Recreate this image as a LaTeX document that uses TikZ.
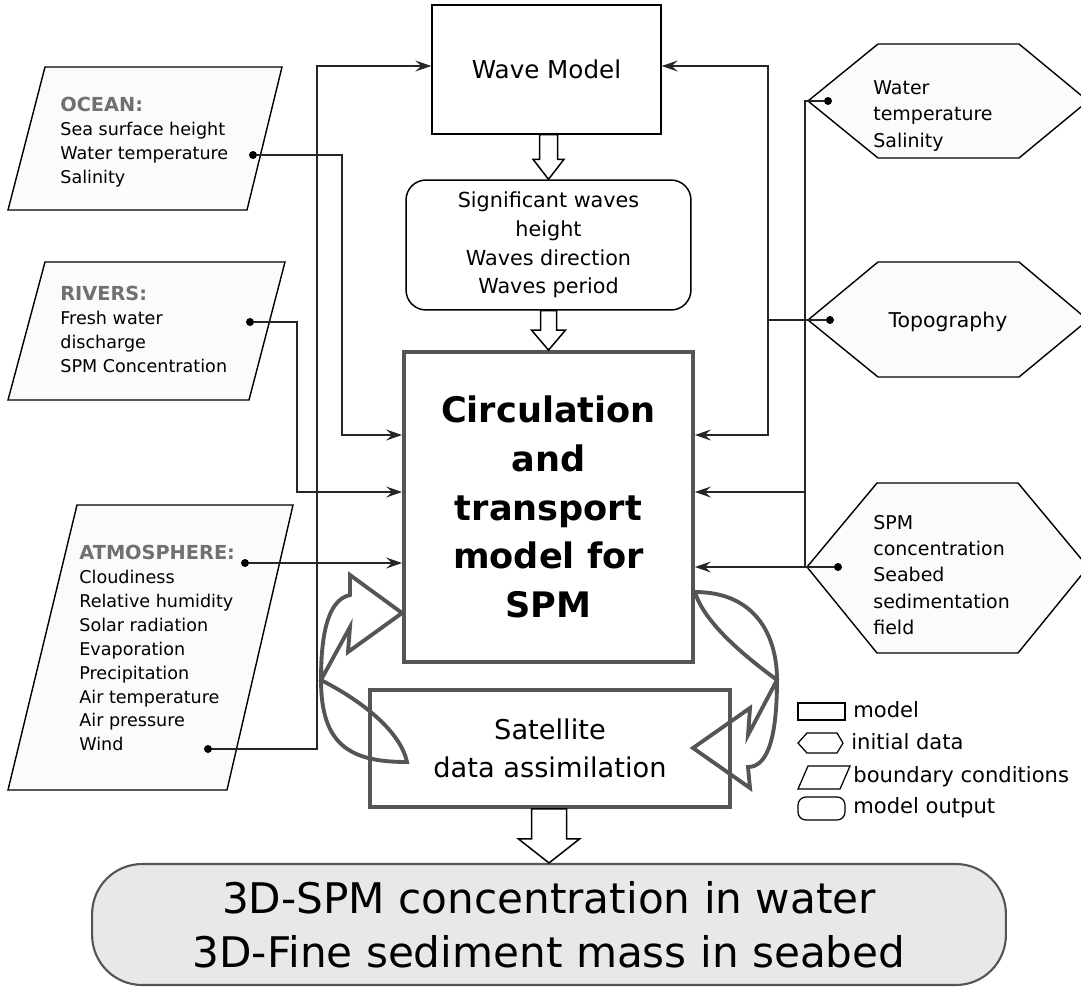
\documentclass[tikz,border=0pt]{standalone}
\usepackage{fontspec}
\setmainfont{DejaVu Sans}
\usetikzlibrary{arrows.meta, calc}
\definecolor{FrameGray}{RGB}{85,85,85}
\definecolor{LabelGray}{RGB}{112,112,112}
\definecolor{ShapeFill}{RGB}{251,251,251}
\definecolor{OutFill}{RGB}{232,232,232}

\newcommand{\hollowarrow}[5]{%
  \draw[blockarrow] ($(#2 |- #1)+(-#3,0)$) -- ($(#2)+(-#3,-#5)$) -- ($(#2)+(-#4,-#5)$) -- (#2)
    -- ($(#2)+(#4,-#5)$) -- ($(#2)+(#3,-#5)$) -- ($(#2 |- #1)+(#3,0)$) -- cycle;}

\begin{document}
\begin{tikzpicture}[
        x=0.02cm, y=-0.02cm,
        model/.style={draw=black, line width=0.85pt, inner sep=0pt, align=center},
        bigmodel/.style={draw=FrameGray, line width=2.2pt, inner sep=0pt, align=center},
        output/.style={draw=black, line width=0.85pt, rounded corners=0.4cm, inner sep=0pt, align=center},
        boundary/.style={draw=black, line width=0.8pt, fill=ShapeFill},
        initial/.style={draw=black, line width=0.8pt, fill=ShapeFill},
        sidetext/.style={anchor=north west, inner sep=0pt, align=left, font=\fontsize{10}{13.6}\selectfont},
        hextext/.style={inner sep=0pt, align=left, font=\fontsize{10.8}{15}\selectfont},
        legendtext/.style={anchor=west, inner sep=0pt, font=\fontsize{12}{14}\selectfont},
        dot/.style={circle, fill=black, inner sep=0pt, minimum size=0.16cm},
        line/.style={black!85, line width=0.7pt},
        arrow/.style={-{Stealth[length=0.32cm, width=0.22cm, inset=0.12cm]}, black!85, line width=0.7pt},
        blockarrow/.style={draw=black, line width=0.85pt, fill=white},
        curvy/.style={draw=FrameGray, line width=2.2pt, line join=miter},
        legendline/.style={draw=black, line width=0.7pt}
    ]
    \useasboundingbox (0,0) rectangle (1081,991);

    \node[model, minimum width=4.58cm, minimum height=2.58cm, font=\fontsize{14}{17}\selectfont] (wave) at (546.5,69.5) {Wave Model};
    \node[output, minimum width=5.7cm, minimum height=2.6cm, font=\fontsize{11.8}{16.4}\selectfont] (waves) at (548.5,245) {Significant waves\\height\\Waves direction\\Waves period};
    \node[bigmodel, minimum width=5.78cm, minimum height=6.2cm, font=\fontsize{20}{27.8}\selectfont\bfseries] (main) at (548.5,507) {Circulation\\and\\transport\\model for\\SPM};
    \node[bigmodel, minimum width=7.2cm, minimum height=2.34cm, font=\fontsize{15.5}{22}\selectfont] (sat) at (550,748.5) {Satellite\\data assimilation};
    \node[output, draw=FrameGray, line width=1.2pt, fill=OutFill, rounded corners=1cm, minimum width=18.28cm, minimum height=2.42cm, font=\fontsize{24}{31}\selectfont] (result) at (549,924.5) {3D-SPM concentration in water\\3D-Fine sediment mass in seabed};

    \hollowarrow{wave.south}{waves.north}{9}{15.5}{20}
    \hollowarrow{waves.south}{main.north}{8}{17}{20}
    \hollowarrow{sat.south}{result.north}{17.5}{30.5}{24}

    \draw[boundary] (45,67) -- (282,67) -- (247,210) -- (8,210) -- cycle;
    \draw[boundary] (45,262) -- (285,262) -- (249,400) -- (8,400) -- cycle;
    \draw[boundary] (77,505) -- (293,505) -- (227,790) -- (8,790) -- cycle;
    \node[sidetext] (ocean) at (60,97) {\textcolor{LabelGray}{\fontsize{11}{13.6}\selectfont\bfseries OCEAN:}\\Sea surface height\\Water temperature\\Salinity};
    \node[sidetext] (rivers) at (60,286) {\textcolor{LabelGray}{\fontsize{11}{13.6}\selectfont\bfseries RIVERS:}\\Fresh water\\discharge\\SPM Concentration};
    \node[sidetext] (atmo) at (79,545) {\textcolor{LabelGray}{\fontsize{11}{13.6}\selectfont\bfseries ATMOSPHERE:}\\Cloudiness\\Relative humidity\\Solar radiation\\Evaporation\\Precipitation\\Air temperature\\Air pressure\\Wind};
    \node[dot] (oceandot) at (253,155) {};
    \node[dot] (riversdot) at (250,322) {};
    \node[dot] (atmodot) at (245,563) {};
    \node[dot] (winddot) at (208,749) {};

    \draw[initial] (808,101) -- (878,44) -- (1019,44) -- (1088,101) -- (1019,158) -- (878,158) -- cycle;
    \draw[initial] (808,320) -- (878,262) -- (1019,262) -- (1088,320) -- (1019,377) -- (878,377) -- cycle;
    \draw[initial] (807,567) -- (877,483) -- (1018,483) -- (1088,567) -- (1018,653) -- (877,653) -- cycle;
    \node[hextext, anchor=west] (water) at (873,116) {Water\\temperature\\Salinity};
    \node[hextext, font=\fontsize{11.6}{15}\selectfont] (topo) at (948,322) {Topography};
    \node[hextext, anchor=west] (spm) at (873,575) {SPM\\concentration\\Seabed\\sedimentation\\field};
    \node[dot] (waterdot) at (828,101) {};
    \node[dot] (topodot) at (830,320) {};
    \node[dot] (spmdot) at (838,567) {};

    \draw[arrow] (oceandot) -| (342,435) -- (main.west |- 0,435);
    \draw[arrow] (riversdot) -| (297,492) -- (main.west |- 0,492);
    \draw[arrow] (atmodot) -- (main.west |- 0,563);
    \draw[arrow] (winddot) -| (317,66) -- (wave.west |- 0,66);

    \draw[arrow] (topodot) -- (768,320) |- (wave.east |- 0,66);
    \draw[arrow] (768,320) |- (main.east |- 0,435);
    \draw[arrow] (waterdot) -- (805,101) |- (main.east |- 0,567);
    \draw[line] (spmdot) -- (805,567);
    \draw[arrow] (805,492) -- (main.east |- 0,492);

    \draw[curvy] (main.west |- 0,613) -- (350,575) -- (350,595) .. controls (326,600) and (321,640) .. (321,680)
        .. controls (321,745) and (350,762) .. (407,762) .. controls (400,730) and (360,700) .. (321,680)
        -- (350,627) -- (348,652) -- cycle;
    \draw[curvy] (main.east |- 0,592) .. controls (755,592) and (777,635) .. (777,680)
        .. controls (777,745) and (765,767) .. (748,767) -- (750,788) -- (693,748) -- (750,708) -- (748,735)
        -- (777,680) .. controls (750,660) and (705,625) .. (main.east |- 0,592);

    \draw[legendline] (798,703) rectangle (845,720);
    \draw[legendline] (798,743) -- (807,733) -- (837,733) -- (843,743) -- (837,753) -- (807,753) -- cycle;
    \draw[legendline] (798,789) -- (808,766) -- (850,766) -- (840,789) -- cycle;
    \draw[legendline, rounded corners=0.16cm] (798,797) rectangle (845,820);
    \node[legendtext] (lgmodel) at (853,710) {model};
    \node[legendtext] (lginit) at (851,742) {initial data};
    \node[legendtext] (lgbound) at (853,777) {boundary conditions};
    \node[legendtext] (lgout) at (853,808) {model output};
\end{tikzpicture}
\end{document}
